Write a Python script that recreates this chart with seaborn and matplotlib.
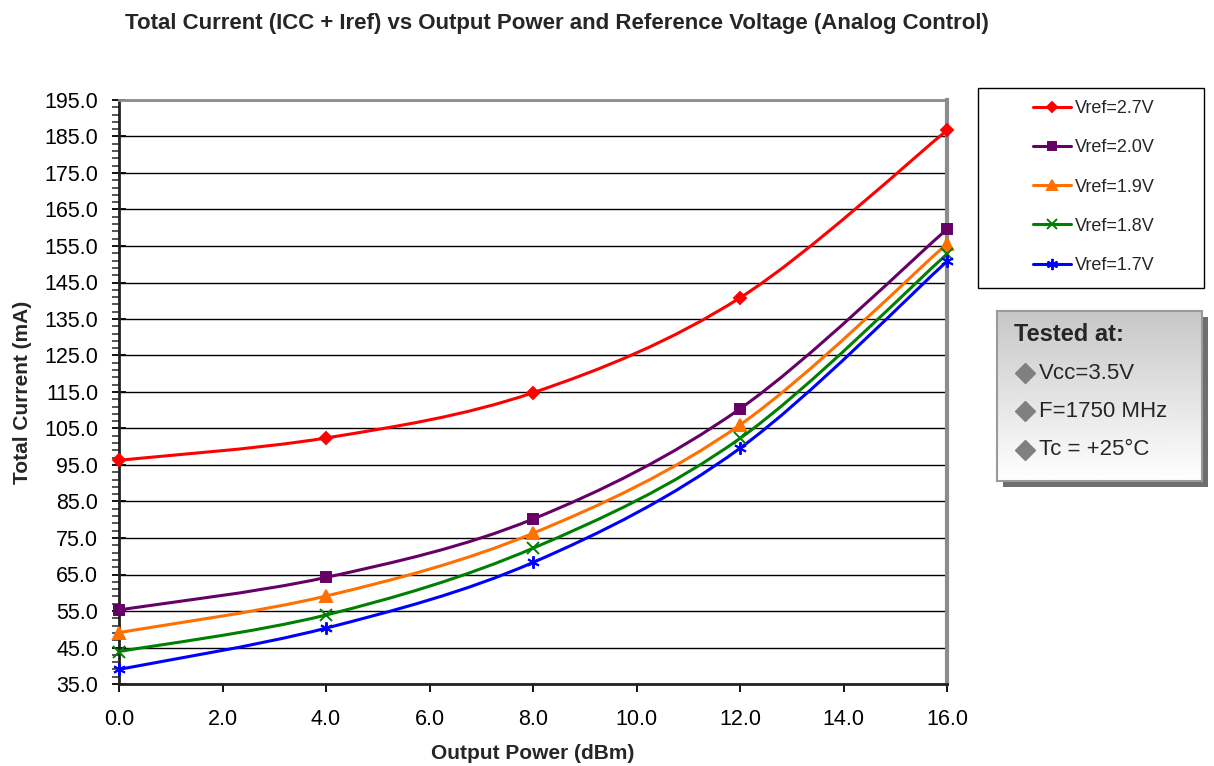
import numpy as np
import pandas as pd
import seaborn as sns
import matplotlib
matplotlib.use("Agg")
import matplotlib.pyplot as plt
from matplotlib.path import Path
from matplotlib.patches import PathPatch, Rectangle
from matplotlib.lines import Line2D

# ---------------- data ----------------
output_power = [0, 4, 8, 12, 16]
series_names = ["Vref=2.7V", "Vref=2.0V", "Vref=1.9V", "Vref=1.8V", "Vref=1.7V"]
vref_27 = [96.3, 102.4, 114.8, 140.8, 186.7]
vref_20 = [55.3, 64.2, 80.2, 110.4, 159.6]
vref_19 = [49.1, 59.1, 76.3, 106.0, 155.6]
vref_18 = [43.9, 53.9, 72.2, 102.3, 152.8]
vref_17 = [39.0, 50.3, 68.3, 99.6, 150.8]
x_ticks = [0, 2, 4, 6, 8, 10, 12, 14, 16]
y_ticks = list(range(35, 196, 10))
tested_lines = ["Vcc=3.5V", "F=1750 MHz", "Tc = +25°C"]

series_values = [vref_27, vref_20, vref_19, vref_18, vref_17]
colors = ["#FF0000", "#660066", "#FF7000", "#008000", "#0000FF"]
markers = ["D", "s", "^", "x", (6, 2, 0)]
msizes = [6, 7, 8, 8, 9]

rows = []
for name, vals in zip(series_names, series_values):
    for xv, yv in zip(output_power, vals):
        rows.append({"power": xv, "current": yv, "series": name})
df = pd.DataFrame(rows)

sns.set_theme(style="white")
plt.rcParams["font.family"] = ["Liberation Sans", "DejaVu Sans"]

fig = plt.figure(figsize=(12.14, 7.66), dpi=100)
L, R, T, B = 119, 947, 100, 684
W, H = 1214, 766
ax = fig.add_axes([L / W, 1 - B / H, (R - L) / W, (B - T) / H])


def smooth_path(xs, ys):
    # Excel-style smoothed line (cubic Bezier through the data points)
    xs = np.asarray(xs, float)
    ys = np.asarray(ys, float)
    n = len(xs)
    verts = [(xs[0], ys[0])]
    codes = [Path.MOVETO]
    for i in range(n - 1):
        p0 = np.array([xs[max(i - 1, 0)], ys[max(i - 1, 0)]])
        p1 = np.array([xs[i], ys[i]])
        p2 = np.array([xs[i + 1], ys[i + 1]])
        p3 = np.array([xs[min(i + 2, n - 1)], ys[min(i + 2, n - 1)]])
        c1 = p1 + (p2 - p0) / 6.0
        c2 = p2 - (p3 - p1) / 6.0
        verts += [tuple(c1), tuple(c2), tuple(p2)]
        codes += [Path.CURVE4] * 3
    return Path(verts, codes)


for name, col in zip(series_names, colors):
    sub = df[df["series"] == name]
    patch = PathPatch(smooth_path(sub["power"], sub["current"]), facecolor="none",
                      edgecolor=col, lw=2.2, zorder=3, clip_on=False)
    ax.add_patch(patch)

for name, col, mk, ms in zip(series_names, colors, markers, msizes):
    sub = df[df["series"] == name]
    sns.lineplot(data=sub, x="power", y="current", ax=ax, color=col, marker=mk,
                 markersize=ms, linestyle="", markeredgecolor=col, markeredgewidth=1.4,
                 zorder=4, clip_on=False, legend=False)

ax.set_xlim(0, 16)
ax.set_ylim(35, 195)
ax.set_xticks(x_ticks)
ax.set_xticklabels([f"{v:.1f}" for v in x_ticks])
ax.set_yticks(y_ticks)
ax.set_yticklabels([f"{v:.1f}" for v in y_ticks])
ax.set_yticks(np.arange(35, 196, 2), minor=True)
ax.tick_params(axis="y", which="major", direction="inout", length=10, width=1.3,
               labelsize=15.5, colors="black", pad=10, left=True)
ax.tick_params(axis="y", which="minor", direction="out", length=5, width=1.1, left=True)
ax.tick_params(axis="x", which="major", direction="out", length=6, width=1.3,
               labelsize=15.5, colors="black", pad=12, bottom=True)
ax.yaxis.grid(True, which="major", color="black", lw=1.0)
ax.xaxis.grid(False)
ax.set_axisbelow(True)

for s in ["left", "bottom"]:
    ax.spines[s].set_color("#222222")
    ax.spines[s].set_linewidth(2.0)
ax.spines["top"].set_color("#8c8c8c")
ax.spines["top"].set_linewidth(2.0)
ax.spines["right"].set_color("#8c8c8c")
ax.spines["right"].set_linewidth(3.0)

ax.set_xlabel("Output Power (dBm)", fontsize=15, fontweight="bold")
ax.set_ylabel("Total Current (mA)", fontsize=15, fontweight="bold")
ax.xaxis.set_label_coords(0.5, -(744 - 684) / (B - T))
ax.yaxis.set_label_coords(-(119 - 32) / (R - L), 0.5)

fig.text(557 / W, 1 - 23 / H,
         "Total Current (ICC + Iref) vs Output Power and Reference Voltage (Analog Control)",
         ha="center", va="center", fontsize=16, fontweight="bold",
         family=["Liberation Sans Narrow", "Liberation Sans", "DejaVu Sans"])

# ---------------- legend ----------------
handles = [Line2D([0], [0], color=c, lw=2.2, marker=m, markersize=ms * 0.9,
                  markeredgecolor=c, markeredgewidth=1.4)
           for c, m, ms in zip(colors, markers, msizes)]
lx0, ly0, lx1, ly1 = 978, 88, 1204, 288
fig.patches.append(Rectangle((lx0 / W, 1 - ly1 / H), (lx1 - lx0) / W, (ly1 - ly0) / H,
                             transform=fig.transFigure, facecolor="white",
                             edgecolor="black", lw=1.0, zorder=1))
leg = fig.legend(handles, series_names, loc="center",
                 bbox_to_anchor=(1094 / W, 1 - 187 / H),
                 fontsize=13, frameon=False,
                 handlelength=2.1, handletextpad=0.25, labelspacing=1.23,
                 borderpad=0.0, borderaxespad=0.0)
leg.set_zorder(2)

# ---------------- tested-at box ----------------
bx0, by0, bx1, by1 = 997, 311, 1202, 481
sh = 6
fig.patches.append(Rectangle(((bx0 + sh) / W, 1 - (by1 + sh) / H), (bx1 - bx0) / W,
                             (by1 - by0) / H, transform=fig.transFigure,
                             facecolor="#6e6e6e", edgecolor="none", zorder=1))
bax = fig.add_axes([bx0 / W, 1 - by1 / H, (bx1 - bx0) / W, (by1 - by0) / H], zorder=2)
grad = np.linspace(0.78, 1.0, 256).reshape(-1, 1)
bax.imshow(grad, cmap="gray", vmin=0, vmax=1, aspect="auto", extent=[0, 1, 0, 1])
bax.set_xlim(0, 1)
bax.set_ylim(0, 1)
bax.set_xticks([])
bax.set_yticks([])
for s in bax.spines.values():
    s.set_color("#9a9a9a")
    s.set_linewidth(1.5)
narrow = ["Liberation Sans Narrow", "Liberation Sans", "DejaVu Sans"]
bax.text(0.085, 0.86, "Tested at:", fontsize=17, fontweight="bold", va="center",
         ha="left", family=narrow, transform=bax.transAxes)
for i, txt in enumerate(tested_lines):
    yy = 0.635 - i * 0.225
    bax.plot([0.135], [yy], marker="D", markersize=10, color="#808080",
             transform=bax.transAxes, clip_on=False)
    bax.text(0.205, yy, txt, fontsize=16, va="center", ha="left", family=narrow,
             transform=bax.transAxes)

fig.savefig("out.png", dpi=100)
